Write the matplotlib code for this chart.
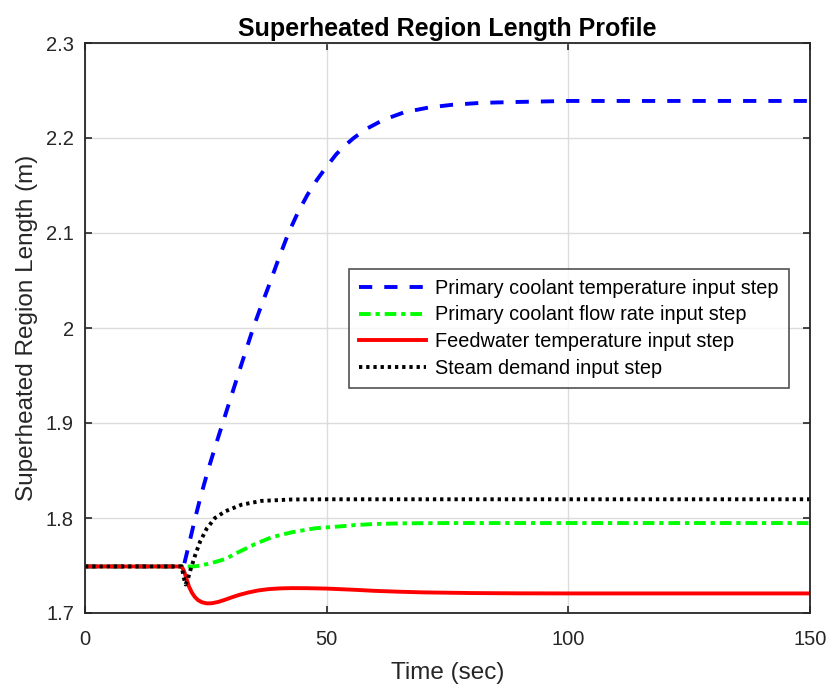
import matplotlib
matplotlib.use("Agg")
import matplotlib.pyplot as plt

plt.rcParams['font.family'] = ['Liberation Sans', 'DejaVu Sans']

# ---- data ----
t_blue = [0, 20, 20.5, 21.5, 22.8, 24, 25.5, 27, 28.5, 30, 32, 34.8, 36, 38, 40,
          42.1, 44, 46, 48, 50, 52, 54, 55.6, 58, 61.7, 66, 71, 76, 82, 90, 100, 150]
v_blue = [1.749, 1.749, 1.751, 1.772, 1.80, 1.824, 1.851, 1.876, 1.90, 1.924, 1.956,
          2.0, 2.017, 2.044, 2.072, 2.1, 2.121, 2.140, 2.156, 2.170, 2.183, 2.193,
          2.200, 2.209, 2.219, 2.227, 2.232, 2.235, 2.237, 2.238, 2.239, 2.239]

t_green = [0, 20, 21, 22.5, 23.8, 26.2, 29, 31.7, 35.2, 38.6, 42.8, 47.6, 53.1,
           55.9, 60, 66, 75, 90, 150]
v_green = [1.749, 1.749, 1.749, 1.749, 1.7498, 1.7526, 1.7568, 1.7639, 1.7726,
           1.7797, 1.785, 1.7892, 1.7913, 1.7926, 1.7937, 1.7944, 1.7947, 1.7947, 1.7947]

t_red = [0, 20, 20.5, 21, 21.5, 22.1, 22.7, 23.4, 24.2, 25.2, 26.3, 27.6, 29, 30.3,
         32, 33.8, 35.8, 37.9, 40.3, 42.8, 46, 50, 55.9, 60, 65, 70, 80, 90, 100, 150]
v_red = [1.749, 1.749, 1.744, 1.736, 1.728, 1.7216, 1.717, 1.7135, 1.7113, 1.7101,
         1.7103, 1.7117, 1.714, 1.7164, 1.7192, 1.7216, 1.7237, 1.7251, 1.7259,
         1.7262, 1.7261, 1.7257, 1.7244, 1.7233, 1.7224, 1.7217, 1.721, 1.7207,
         1.7206, 1.7206]

t_black = [0, 20, 20.4, 20.8, 21.3, 21.8, 22.8, 23.8, 25.2, 26.9, 29, 32.4,
           36.5, 42.8, 50, 150]
v_black = [1.749, 1.749, 1.738, 1.730, 1.736, 1.745, 1.761, 1.775, 1.789, 1.800,
           1.807, 1.814, 1.818, 1.8195, 1.8197, 1.8197]

labels = ['Primary coolant temperature input step',
          'Primary coolant flow rate input step',
          'Feedwater temperature input step',
          'Steam demand input step']

xticks = [0, 50, 100, 150]
yticks = [1.7, 1.8, 1.9, 2.0, 2.1, 2.2, 2.3]
yticklabels = ['1.7', '1.8', '1.9', '2', '2.1', '2.2', '2.3']

fig = plt.figure(figsize=(8.30, 6.86), dpi=100)
ax = fig.add_axes([85/830, 1-613/686, (810-85)/830, (613-43)/686])

lw = 2.8
ax.plot(t_blue, v_blue, color='#0000ff', lw=lw, ls=(0, (3.4, 3.1)), label=labels[0])
ax.plot(t_green, v_green, color='#00ff00', lw=lw, ls=(0, (3.0, 1.25, 1.1, 1.25)), label=labels[1])
ax.plot(t_red, v_red, color='#ff0000', lw=lw, ls='-', label=labels[2])
ax.plot(t_black, v_black, color='#000000', lw=lw, ls=(0, (0.85, 1.0)), label=labels[3])

ax.set_xlim(0, 150)
ax.set_ylim(1.7, 2.3)
ax.set_xticks(xticks)
ax.set_yticks(yticks)
ax.set_yticklabels(yticklabels)
ax.grid(True, color='#dcdcdc', lw=1)
ax.set_axisbelow(True)
ax.tick_params(direction='in', top=True, right=True, length=5, width=1.2,
               labelsize=14.5, colors='#262626')
ax.tick_params(axis='x', pad=12.5)
ax.tick_params(axis='y', pad=8)
for s in ax.spines.values():
    s.set_linewidth(1.3)
    s.set_color('#262626')

ax.set_xlabel('Time (sec)', fontsize=17.5, color='#262626', labelpad=9)
ax.set_ylabel('Superheated Region Length (m)', fontsize=17.5, color='#262626', labelpad=6)
ax.set_title('Superheated Region Length Profile', fontsize=18, fontweight='bold', pad=5)

leg = ax.legend(loc='upper left', bbox_to_anchor=((349-85)/725, 1-(269-43)/570),
                fontsize=14.3, frameon=True, fancybox=False, edgecolor='#262626',
                handlelength=3.4, handletextpad=0.45, borderpad=0.5, labelspacing=0.38,
                borderaxespad=0)
leg.get_frame().set_linewidth(1.2)

fig.savefig('out.png', dpi=100)
